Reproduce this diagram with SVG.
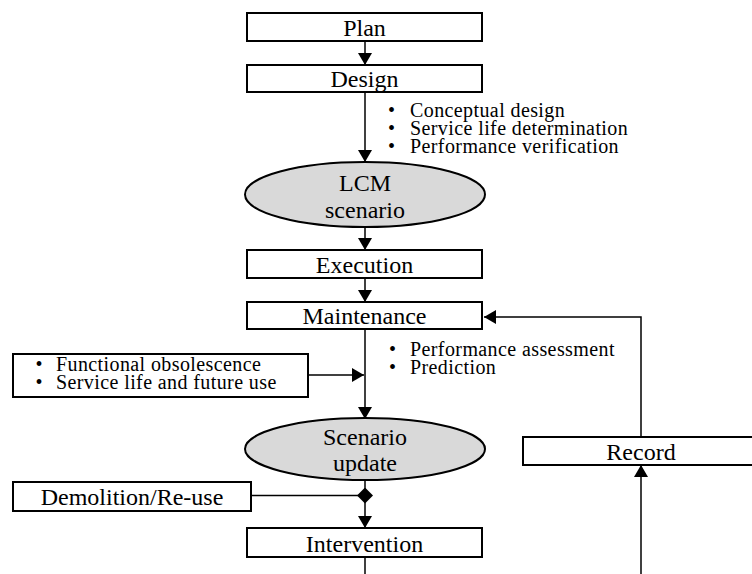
<svg xmlns="http://www.w3.org/2000/svg" width="752" height="574" viewBox="0 0 752 574">
<style>
.box{fill:#fff;stroke:#000;stroke-width:2}
.ell{fill:#d9d9d9;stroke:#000;stroke-width:2}
.lbl{font-family:"Liberation Serif","Times New Roman",serif;font-size:24px;fill:#000;text-anchor:middle}
.bul{font-family:"Liberation Serif","Times New Roman",serif;font-size:20px;fill:#000;letter-spacing:0.4px}
.con{fill:none;stroke:#000;stroke-width:1.5}
</style>
<defs>
<marker id="arr" viewBox="0 0 12 14" refX="12" refY="7" markerWidth="12" markerHeight="14" markerUnits="userSpaceOnUse" orient="auto">
<path d="M0,0 L12,7 L0,14 z" fill="#000"/>
</marker>
<marker id="dia" viewBox="0 0 16 16" refX="8" refY="8" markerWidth="16" markerHeight="16" markerUnits="userSpaceOnUse" orient="auto">
<path d="M0,8 L8,0 L16,8 L8,16 z" fill="#000"/>
</marker>
</defs>
<g id="connectors">
<line class="con" x1="365" y1="41" x2="365" y2="65" marker-end="url(#arr)"/>
<line class="con" x1="365" y1="92" x2="365" y2="162" marker-end="url(#arr)"/>
<line class="con" x1="365" y1="227" x2="365" y2="250" marker-end="url(#arr)"/>
<line class="con" x1="365" y1="278" x2="365" y2="302" marker-end="url(#arr)"/>
<line class="con" x1="365" y1="329" x2="365" y2="419" marker-end="url(#arr)"/>
<line class="con" x1="308" y1="375" x2="364" y2="375" marker-end="url(#arr)"/>
<line class="con" x1="365" y1="480" x2="365" y2="528" marker-end="url(#arr)"/>
<line class="con" x1="251" y1="495.5" x2="365" y2="495.5" marker-end="url(#dia)"/>
<line class="con" x1="365" y1="557" x2="365" y2="574"/>
<polyline class="con" points="641,437 641,317 484,317" marker-end="url(#arr)"/>
<line class="con" x1="641" y1="574" x2="641" y2="465" marker-end="url(#arr)"/>
</g>
<g id="plan">
<rect class="box" x="247" y="13" width="235" height="28"/>
<text class="lbl" x="364.5" y="36">Plan</text>
</g>
<g id="design">
<rect class="box" x="247" y="65" width="235" height="27"/>
<text class="lbl" x="364.5" y="87">Design</text>
</g>
<g id="design-notes">
<text class="bul" x="388" y="117">•<tspan x="410">Conceptual design</tspan></text>
<text class="bul" x="388" y="135">•<tspan x="410">Service life determination</tspan></text>
<text class="bul" x="388" y="153">•<tspan x="410">Performance verification</tspan></text>
</g>
<g id="lcm-scenario">
<ellipse class="ell" cx="365" cy="194.5" rx="120" ry="32.5"/>
<text class="lbl" x="365" y="191">LCM</text>
<text class="lbl" x="365" y="218">scenario</text>
</g>
<g id="execution">
<rect class="box" x="247" y="250" width="235" height="28"/>
<text class="lbl" x="364.5" y="273">Execution</text>
</g>
<g id="maintenance">
<rect class="box" x="247" y="302" width="235" height="27"/>
<text class="lbl" x="364.5" y="324">Maintenance</text>
</g>
<g id="maintenance-notes">
<text class="bul" x="389" y="356">•<tspan x="410">Performance assessment</tspan></text>
<text class="bul" x="389" y="374">•<tspan x="410">Prediction</tspan></text>
</g>
<g id="factors">
<rect class="box" x="13" y="354" width="295" height="43"/>
<text class="bul" x="35.5" y="370.5">•<tspan x="56">Functional obsolescence</tspan></text>
<text class="bul" x="35.5" y="388.5">•<tspan x="56">Service life and future use</tspan></text>
</g>
<g id="scenario-update">
<ellipse class="ell" cx="365" cy="449" rx="120" ry="31"/>
<text class="lbl" x="365" y="445">Scenario</text>
<text class="lbl" x="365" y="471">update</text>
</g>
<g id="demolition">
<rect class="box" x="13" y="482" width="238" height="29"/>
<text class="lbl" x="132" y="504.5">Demolition/Re-use</text>
</g>
<g id="intervention">
<rect class="box" x="247" y="528" width="235" height="29"/>
<text class="lbl" x="364.5" y="552">Intervention</text>
</g>
<g id="record">
<rect class="box" x="523" y="437" width="236" height="28"/>
<text class="lbl" x="641" y="459.5">Record</text>
</g>
</svg>
